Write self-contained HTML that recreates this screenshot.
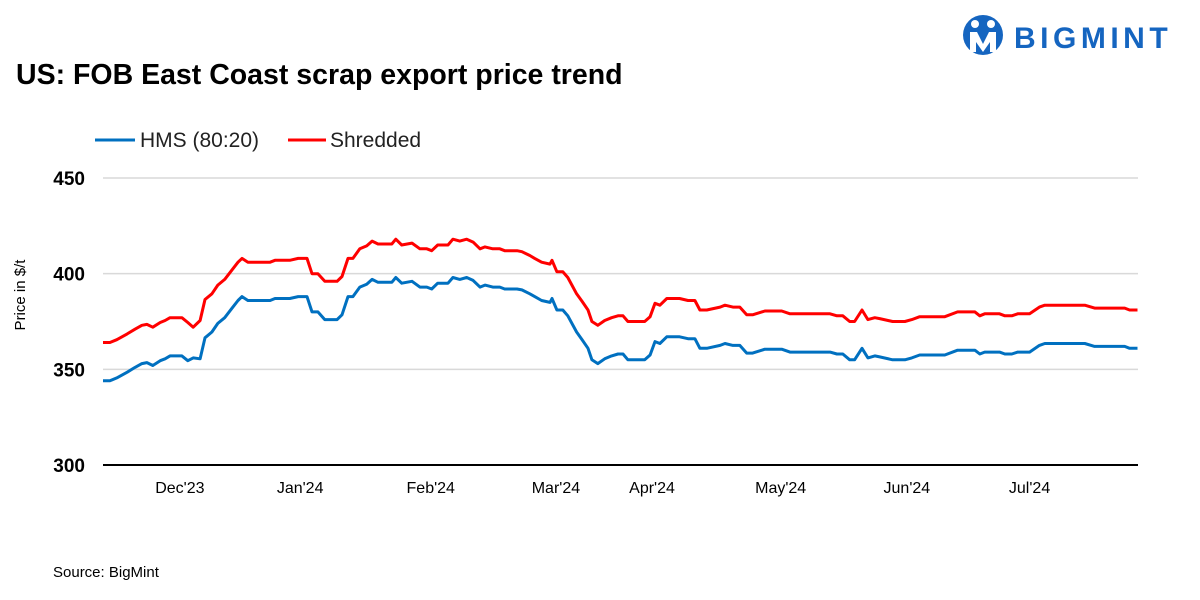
<!DOCTYPE html>
<html><head><meta charset="utf-8"><style>
body{margin:0;background:#fff;}
svg{display:block;font-family:"Liberation Sans",sans-serif;}
</style></head><body>
<svg id="chart" width="1200" height="600" viewBox="0 0 1200 600">
<g>
  <circle cx="983" cy="35" r="20" fill="#1565c0"/>
  <circle cx="975" cy="24" r="4" fill="#fff"/><circle cx="991" cy="24" r="4" fill="#fff"/>
  <path d="M970 32 L977 32 L983 44 L989 32 L996 32 L996 52 L990 52 L990 42 L983 52 L976 42 L976 52 L970 52 Z" fill="#fff"/>
  <text x="1014" y="48" font-size="30" font-weight="bold" fill="#1565c0" letter-spacing="4.5">BIGMINT</text>
</g>
<text x="16" y="84" font-size="28.5" font-weight="bold" fill="#000">US: FOB East Coast scrap export price trend</text>
<g>
  <line x1="95" y1="140" x2="135" y2="140" stroke="#0070c0" stroke-width="3"/>
  <text x="140" y="147" font-size="21" fill="#222">HMS (80:20)</text>
  <line x1="288" y1="140" x2="326" y2="140" stroke="#ff0000" stroke-width="3"/>
  <text x="330" y="147" font-size="21" fill="#222">Shredded</text>
</g>
<text transform="translate(25,295) rotate(-90)" text-anchor="middle" font-size="15" fill="#000">Price in $/t</text>
<text x="53" y="577" font-size="15" fill="#000">Source: BigMint</text>
<g id="grid"></g><g id="lines"></g>
</svg>
<script>
const days=[0,1.4,2.8,4.9,6.5,7.9,8.9,10.1,11.6,12.6,13.6,16,17.2,18.3,19.7,20.7,22.1,23.3,24.7,26.2,27.4,28.2,29.4,33.9,34.9,37.9,39.6,41.4,42.4,43.6,45,47.5,48.5,49.7,50.7,52.1,53.5,54.6,55.8,58.6,59.4,60.6,62.7,64.3,65.7,66.7,67.9,70,71,72.4,73.8,75.1,76.5,77.5,79.1,80.5,81.5,84,85,86.6,87.6,89,90.7,91.1,92.1,93.3,94.3,96.1,97.2,98.4,99.2,100.4,101.8,103.2,104.5,105.5,106.5,109.9,111,112,113,114.4,117,118.7,120.1,121.1,122.5,125.2,126.2,127.8,129.2,130.6,131.8,134.3,137.7,139.4,147.5,148.9,150.1,151.5,152.5,154,155.2,156.6,157.6,160.2,162.7,164.1,165.7,170.8,173.4,176.9,177.9,178.9,181.9,183,184.4,185.6,188,190,191.1,199.2,201.2,207.3,208.3,209.9];
const hms=[344,344,345.5,348.5,351,353,353.5,352,354.5,355.5,357,357,354.5,356,355.5,366.5,369.5,374,377,382,386,388,386,386,387,387,388,388,380,380,376,376,378.5,388,388,393,394.5,397,395.5,395.5,398,395,396,393,393,392,395,395,398,397,398,396.5,393,394,393,393,392,392,391.5,389.5,388,386,385,387,381,381,378,369.5,365.5,361,355,353,355.5,357,358,358,355,355,357.5,364.5,363.5,367,367,366,366,361,361,362.5,363.5,362.5,362.5,358.5,358.5,360.5,360.5,359,359,358,358,355,355,361,356,357,356.5,355,355,356,357.5,357.5,360,360,358,359,359,358,358,359,359,362.5,363.5,363.5,362,362,361,361];
const shredded=[364,364,365.5,368.5,371,373,373.5,372,374.5,375.5,377,377,374.5,372,375.5,386.5,389.5,394,397,402,406,408,406,406,407,407,408,408,400,400,396,396,398.5,408,408,413,414.5,417,415.5,415.5,418,415,416,413,413,412,415,415,418,417,418,416.5,413,414,413,413,412,412,411.5,409.5,408,406,405,407,401,401,398,389.5,385.5,381,375,373,375.5,377,378,378,375,375,377.5,384.5,383.5,387,387,386,386,381,381,382.5,383.5,382.5,382.5,378.5,378.5,380.5,380.5,379,379,378,378,375,375,381,376,377,376.5,375,375,376,377.5,377.5,380,380,378,379,379,378,378,379,379,382.5,383.5,383.5,382,382,381,381];
const yTicks=[300,350,400,450];
const monthLabels=["Dec'23","Jan'24","Feb'24","Mar'24","Apr'24","May'24","Jun'24","Jul'24"];
const monthDays=[15.6,40,66.5,91.9,111.4,137.5,163.1,188];

const NS="http://www.w3.org/2000/svg";
const x=d=>103+d*(1035/210);
const y=v=>465-(v-300)*(287/150);
const grid=document.getElementById('grid'),lines=document.getElementById('lines');
function mk(tag,attrs,parent){const e=document.createElementNS(NS,tag);for(const k in attrs)e.setAttribute(k,attrs[k]);parent.appendChild(e);return e;}
yTicks.forEach(t=>{
  const l=mk('line',{x1:103,x2:1138,y1:y(t),y2:y(t),stroke:t===300?'#000':'#d9d9d9','stroke-width':t===300?2:1.5},grid);
  
  
  const tx=mk('text',{x:85,y:y(t)+7,'text-anchor':'end','font-size':19,'font-weight':'bold',fill:'#000'},grid);
  tx.textContent=t;
  
  
});
monthLabels.forEach((m,i)=>{
  const tx=mk('text',{x:x(monthDays[i]),y:493,'text-anchor':'middle','font-size':16,fill:'#000'},grid);
  tx.textContent=m;
  
  
});
function series(vals,color,name){
  const n=Math.min(days.length,vals.length);
  let d='';for(let i=0;i<n;i++)d+=(i?'L':'M')+x(days[i]).toFixed(1)+' '+y(vals[i]).toFixed(1);
  const p=mk('path',{d:d,fill:'none',stroke:color,'stroke-width':3,'stroke-linejoin':'round'},lines);
  
  
}
series(hms,'#0070c0','hms-line');
series(shredded,'#ff0000','shredded-line');
</script>
</body></html>
